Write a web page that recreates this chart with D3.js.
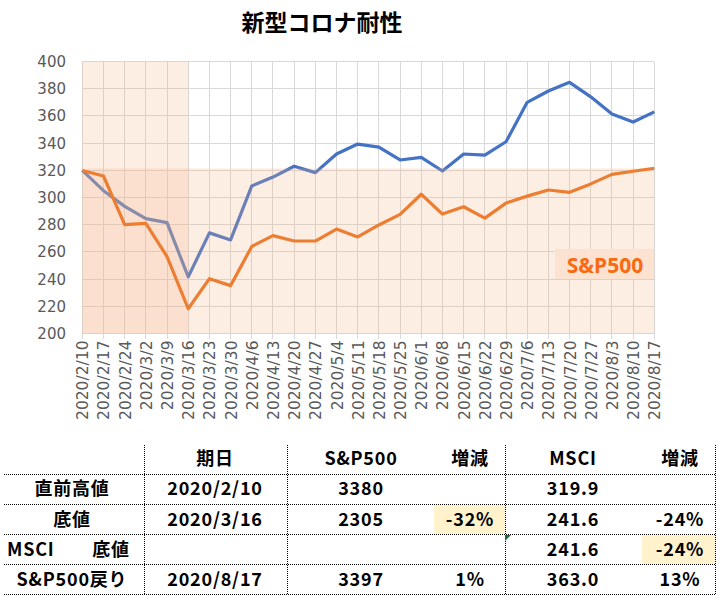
<!DOCTYPE html>
<html><head><meta charset="utf-8">
<script src="https://cdn.jsdelivr.net/npm/d3@7"></script>
<style>
html,body{margin:0;padding:0;background:#fff;}
svg{display:block;}
</style></head>
<body>
<svg id="chart" width="720" height="596"></svg>
<script>
const title = "新型コロナ耐性";
const dates = ["2020/2/10","2020/2/17","2020/2/24","2020/3/2","2020/3/9","2020/3/16","2020/3/23","2020/3/30","2020/4/6","2020/4/13","2020/4/20","2020/4/27","2020/5/4","2020/5/11","2020/5/18","2020/5/25","2020/6/1","2020/6/8","2020/6/15","2020/6/22","2020/6/29","2020/7/6","2020/7/13","2020/7/20","2020/7/27","2020/8/3","2020/8/10","2020/8/17"];
const msci = [319.9,305,293.5,284.5,281.5,241.6,274,268.8,308.5,315,323,318.3,332,339.3,337,327.6,329.5,319.5,332,331.2,341,370,378.3,384.7,374,361.4,355.5,363.0];
const sp500 = [319.9,315.8,280,281,256.5,218.2,240.3,235.2,264,272,268,268,276.8,271,279.8,287.6,302.4,287.8,293.2,284.8,295.9,301,305.5,303.8,310,317,319.3,321.5];
const yTicks = [200,220,240,260,280,300,320,340,360,380,400];
const shadeEnd = "2020/3/16";
const seriesLabel = "S&P500";

const tableHeader = ["", "期日", "S&P500", "増減", "MSCI", "増減"];
const tableRows = [
  ["直前高値", "2020/2/10", "3380", "", "319.9", ""],
  ["底値", "2020/3/16", "2305", "-32%", "241.6", "-24%"],
  ["MSCI　　底値", "", "", "", "241.6", "-24%"],
  ["S&P500戻り", "2020/8/17", "3397", "1%", "363.0", "13%"]
];
const highlights = [[1,3],[2,5]];

const svg = d3.select("#chart");
const x = d3.scalePoint().domain(dates).range([82.3, 654.3]);
const y = d3.scaleLinear().domain([200,400]).range([333.5, 61.5]);

// title
svg.append("text").attr("x", 322).attr("y", 31).attr("text-anchor","middle")
  .attr("font-family","'Noto Sans CJK JP', sans-serif").attr("font-weight","bold")
  .attr("font-size", 23).attr("fill","#000").text(title);

// gridlines
const grid = svg.append("g").attr("stroke","#d9d9d9").attr("stroke-width",1).attr("shape-rendering","crispEdges");
grid.selectAll("line.h").data(yTicks).join("line").attr("class","h")
  .attr("x1", x.range()[0]).attr("x2", x.range()[1])
  .attr("y1", d=>y(d)).attr("y2", d=>y(d));
grid.selectAll("line.v").data(dates).join("line").attr("class","v")
  .attr("x1", d=>x(d)).attr("x2", d=>x(d))
  .attr("y1", y(400)).attr("y2", y(200)+5);

// y axis labels
svg.append("g").selectAll("text").data(yTicks).join("text")
  .attr("x", 66).attr("y", d=>y(d)).attr("dy","0.36em").attr("text-anchor","end")
  .attr("font-family","'DejaVu Sans', sans-serif").attr("font-size",15).attr("fill","#595959")
  .text(d=>d);

// x axis labels
svg.append("g").selectAll("text").data(dates).join("text")
  .attr("transform", d=>`translate(${x(d)+6},${y(200)+7}) rotate(-90)`)
  .attr("text-anchor","end")
  .attr("font-family","'DejaVu Sans', sans-serif").attr("font-size",15.5).attr("fill","#595959")
  .text(d=>d);

const line = d3.line().x((d,i)=>x(dates[i])).y(d=>y(d));

// MSCI line (beneath shading)
svg.append("path").datum(msci).attr("d", line).attr("fill","none")
  .attr("stroke","#4472c4").attr("stroke-width",3.2).attr("stroke-linejoin","round");

// shading
const shade = svg.append("g").attr("fill","#f4b183").attr("fill-opacity",0.22);
shade.append("rect").attr("x", x(dates[0])).attr("y", y(400))
  .attr("width", x(shadeEnd)-x(dates[0])).attr("height", y(200)-y(400));
shade.append("rect").attr("x", x(dates[0])).attr("y", y(sp500[sp500.length-1]))
  .attr("width", x(dates[dates.length-1])-x(dates[0])).attr("height", y(200)-y(sp500[sp500.length-1]));

// S&P500 line
svg.append("path").datum(sp500).attr("d", line).attr("fill","none")
  .attr("stroke","#ed7d31").attr("stroke-width",3.2).attr("stroke-linejoin","round");

// series label
svg.append("rect").attr("x",555).attr("y",249).attr("width",99).attr("height",30).attr("fill","#fbe2d1");
svg.append("text").attr("x",605).attr("y",273).attr("text-anchor","middle")
  .attr("font-family","'Noto Sans', sans-serif").attr("font-weight","bold").attr("font-size",21)
  .attr("fill","#fa6a12").text(seriesLabel);

// table
const colCenters = [72, 215, 361, 470, 573, 680];
const rowBaselines = [465, 495, 526, 556, 586];
const rowLines = [474.5, 504.5, 534.5, 564.5, 594.5];
const colLines = [144.5, 287.5, 505.5, 715.5];
const cellX = [[0,144],[144,287],[287,434],[434,505],[505,642],[642,716]];
const tb = svg.append("g");
highlights.forEach(([r,c])=>{
  tb.append("rect").attr("x", cellX[c][0]).attr("y", rowLines[r]+0.5)
    .attr("width", cellX[c][1]-cellX[c][0]).attr("height", rowLines[r+1]-rowLines[r]-1)
    .attr("fill","#fff2cc");
});
tb.selectAll("line.rl").data(rowLines).join("line").attr("class","rl")
  .attr("x1",4).attr("x2",716).attr("y1",d=>d).attr("y2",d=>d)
  .attr("stroke","#000").attr("stroke-width",1).attr("stroke-dasharray","1,1");
tb.selectAll("line.cl").data(colLines).join("line").attr("class","cl")
  .attr("x1",d=>d).attr("x2",d=>d).attr("y1",445).attr("y2",595)
  .attr("stroke","#000").attr("stroke-width",1).attr("stroke-dasharray","1,1");
// small indicator triangle
tb.append("path").attr("d","M505,535 L511,535 L505,541 Z").attr("fill","#1e6b3a");

const allRows = [tableHeader].concat(tableRows);
allRows.forEach((row, r)=>{
  row.forEach((cell, c)=>{
    if (!cell) return;
    const t = tb.append("text").attr("y", rowBaselines[r])
      .attr("font-family","'Noto Sans CJK JP', sans-serif").attr("font-weight","bold")
      .attr("font-size",18).attr("letter-spacing", 0.8).attr("fill","#000").text(cell);
    if (r===3 && c===0) { t.attr("x",7).attr("text-anchor","start"); }
    else { t.attr("x", colCenters[c]).attr("text-anchor","middle"); }
  });
});
</script>
</body></html>
